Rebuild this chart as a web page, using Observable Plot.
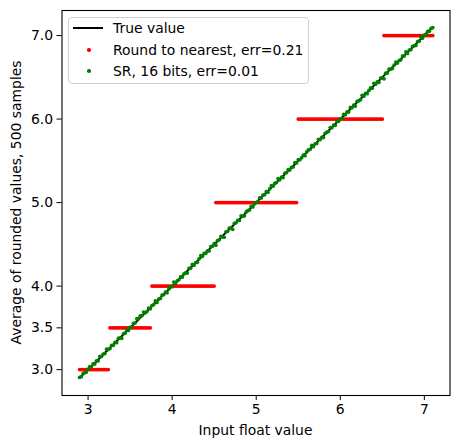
<!DOCTYPE html>
<html>
<head>
<meta charset="utf-8">
<script src="https://cdn.jsdelivr.net/npm/d3@7"></script>
<script src="https://cdn.jsdelivr.net/npm/@observablehq/plot@0.6"></script>
<style>
  body { margin: 0; background: #fff; }
  #wrap { position: relative; width: 458px; height: 448px; font-family: "DejaVu Sans", sans-serif; }
  #legend { position: absolute; left: 68px; top: 17px; width: 241px; height: 67px; box-sizing: border-box;
            border: 1px solid #d0d0d0; border-radius: 4px; background: rgba(255,255,255,0.8); font-size: 13.9px; color: #000; }
  .lt { position: absolute; left: 44px; line-height: 16px; white-space: nowrap; }
  .ln { position: absolute; left: 4px; width: 30px; height: 2px; background: #000; }
  .dt { position: absolute; left: 18px; width: 3.5px; height: 3.5px; border-radius: 50%; }
</style>
</head>
<body>
<div id="wrap">
  <div id="chart"></div>
  <div id="legend">
    <div class="ln" style="top:9px"></div><div class="lt" style="top:2px">True value</div>
    <div class="dt" style="top:30px;background:red"></div><div class="lt" style="top:24px">Round to nearest, err=0.21</div>
    <div class="dt" style="top:51px;background:green"></div><div class="lt" style="top:45px">SR, 16 bits, err=0.01</div>
  </div>
</div>
<script>
const xValues = [
2.90,2.92,2.94,2.96,2.98,3.00,3.02,3.04,3.06,3.08,
3.10,3.12,3.14,3.16,3.18,3.20,3.22,3.24,3.26,3.28,
3.30,3.32,3.34,3.36,3.38,3.40,3.42,3.44,3.46,3.48,
3.50,3.52,3.54,3.56,3.58,3.60,3.62,3.64,3.66,3.68,
3.70,3.72,3.74,3.76,3.78,3.80,3.82,3.84,3.86,3.88,
3.90,3.92,3.94,3.96,3.98,4.00,4.02,4.04,4.06,4.08,
4.10,4.12,4.14,4.16,4.18,4.20,4.22,4.24,4.26,4.28,
4.30,4.32,4.34,4.36,4.38,4.40,4.42,4.44,4.46,4.48,
4.50,4.52,4.54,4.56,4.58,4.60,4.62,4.64,4.66,4.68,
4.70,4.72,4.74,4.76,4.78,4.80,4.82,4.84,4.86,4.88,
4.90,4.92,4.94,4.96,4.98,5.00,5.02,5.04,5.06,5.08,
5.10,5.12,5.14,5.16,5.18,5.20,5.22,5.24,5.26,5.28,
5.30,5.32,5.34,5.36,5.38,5.40,5.42,5.44,5.46,5.48,
5.50,5.52,5.54,5.56,5.58,5.60,5.62,5.64,5.66,5.68,
5.70,5.72,5.74,5.76,5.78,5.80,5.82,5.84,5.86,5.88,
5.90,5.92,5.94,5.96,5.98,6.00,6.02,6.04,6.06,6.08,
6.10,6.12,6.14,6.16,6.18,6.20,6.22,6.24,6.26,6.28,
6.30,6.32,6.34,6.36,6.38,6.40,6.42,6.44,6.46,6.48,
6.50,6.52,6.54,6.56,6.58,6.60,6.62,6.64,6.66,6.68,
6.70,6.72,6.74,6.76,6.78,6.80,6.82,6.84,6.86,6.88,
6.90,6.92,6.94,6.96,6.98,7.00,7.02,7.04,7.06,7.08,
7.10];

const roundNearest = [
3,3,3,3,3,3,3,3,3,3,
3,3,3,3,3,3,3,3,3.5,3.5,
3.5,3.5,3.5,3.5,3.5,3.5,3.5,3.5,3.5,3.5,
3.5,3.5,3.5,3.5,3.5,3.5,3.5,3.5,3.5,3.5,
3.5,3.5,3.5,4,4,4,4,4,4,4,
4,4,4,4,4,4,4,4,4,4,
4,4,4,4,4,4,4,4,4,4,
4,4,4,4,4,4,4,4,4,4,
4,5,5,5,5,5,5,5,5,5,
5,5,5,5,5,5,5,5,5,5,
5,5,5,5,5,5,5,5,5,5,
5,5,5,5,5,5,5,5,5,5,
5,5,5,5,5,5,5,5,5,5,
6,6,6,6,6,6,6,6,6,6,
6,6,6,6,6,6,6,6,6,6,
6,6,6,6,6,6,6,6,6,6,
6,6,6,6,6,6,6,6,6,6,
6,6,6,6,6,6,6,6,6,6,
6,7,7,7,7,7,7,7,7,7,
7,7,7,7,7,7,7,7,7,7,
7,7,7,7,7,7,7,7,7,7,
7];

const srValues = [
2.908,2.915,2.952,2.963,2.970,3.006,3.035,3.036,3.069,3.068,
3.104,3.105,3.160,3.157,3.187,3.192,3.245,3.242,3.254,3.291,
3.291,3.325,3.322,3.373,3.380,3.375,3.428,3.436,3.476,3.469,
3.506,3.513,3.554,3.558,3.610,3.610,3.643,3.646,3.689,3.681,
3.695,3.738,3.728,3.767,3.777,3.822,3.804,3.844,3.852,3.892,
3.898,3.929,3.920,3.965,3.995,3.993,4.048,4.029,4.063,4.076,
4.110,4.107,4.146,4.159,4.156,4.212,4.214,4.259,4.251,4.282,
4.285,4.327,4.364,4.356,4.391,4.392,4.423,4.421,4.473,4.478,
4.508,4.490,4.545,4.554,4.597,4.588,4.585,4.649,4.657,4.694,
4.693,4.680,4.752,4.758,4.786,4.786,4.841,4.835,4.842,4.888,
4.903,4.911,4.955,4.948,4.985,5.001,5.013,5.058,5.056,5.090,
5.094,5.133,5.124,5.164,5.202,5.197,5.229,5.239,5.287,5.272,
5.305,5.300,5.351,5.359,5.396,5.391,5.422,5.426,5.480,5.475,
5.514,5.513,5.538,5.569,5.562,5.606,5.632,5.636,5.685,5.670,
5.704,5.708,5.757,5.754,5.781,5.778,5.830,5.843,5.851,5.899,
5.897,5.928,5.925,5.971,5.975,6.002,6.010,6.056,6.053,6.085,
6.086,6.140,6.136,6.167,6.155,6.213,6.218,6.232,6.284,6.274,
6.309,6.304,6.343,6.375,6.369,6.428,6.417,6.446,6.440,6.492,
6.495,6.482,6.550,6.553,6.598,6.598,6.607,6.647,6.682,6.671,
6.701,6.709,6.754,6.756,6.806,6.785,6.826,6.832,6.872,6.877,
6.882,6.929,6.934,6.980,6.970,7.004,7.018,7.051,7.053,7.085,
7.096];

const xTicks = [3, 4, 5, 6, 7];
const yTicks = [3.0, 3.5, 4.0, 5.0, 6.0, 7.0];
const xLabel = "Input float value";
const yLabel = "Average of rounded values, 500 samples";

const redData = xValues.map((x, i) => ({x, y: roundNearest[i]}));
const greenData = xValues.map((x, i) => ({x, y: srValues[i]}));
const trueData = xValues.map(x => ({x, y: x}));

const W = 458, H = 448;
const mL = 61.5, mR = 8.5, mT = 10, mB = 53;

const plot = Plot.plot({
  width: W, height: H,
  marginLeft: mL, marginRight: mR, marginTop: mT, marginBottom: mB,
  style: {fontFamily: "DejaVu Sans, sans-serif", fontSize: "13.9px", color: "#000", background: "#fff"},
  x: {domain: [2.69, 7.305]},
  y: {domain: [2.69, 7.30]},
  marks: [
    Plot.line(trueData, {x: "x", y: "y", stroke: "black", strokeWidth: 2}),
    Plot.dot(redData, {x: "x", y: "y", r: 1.85, fill: "red", stroke: "none"}),
    Plot.dot(greenData, {x: "x", y: "y", r: 1.85, fill: "green", stroke: "none"}),
    Plot.frame({stroke: "black", strokeWidth: 1.1}),
    Plot.axisX({ticks: xTicks, tickSize: 5, tickPadding: 4, label: null, tickFormat: d3.format("d")}),
    Plot.axisY({ticks: yTicks, tickSize: 5, tickPadding: 4, label: null, tickFormat: d3.format(".1f")})
  ]
});

const svg = d3.select(plot);
svg.append("text")
  .attr("x", mL + (W - mL - mR) / 2).attr("y", 435)
  .attr("text-anchor", "middle").attr("fill", "#000")
  .style("font-size", "13.9px").style("font-family", "DejaVu Sans")
  .text(xLabel);
svg.append("text")
  .attr("transform", `translate(21,${mT + (H - mT - mB) / 2}) rotate(-90)`)
  .attr("text-anchor", "middle").attr("fill", "#000")
  .style("font-size", "13.9px").style("font-family", "DejaVu Sans")
  .text(yLabel);

document.getElementById("chart").appendChild(plot);
</script>
</body>
</html>
